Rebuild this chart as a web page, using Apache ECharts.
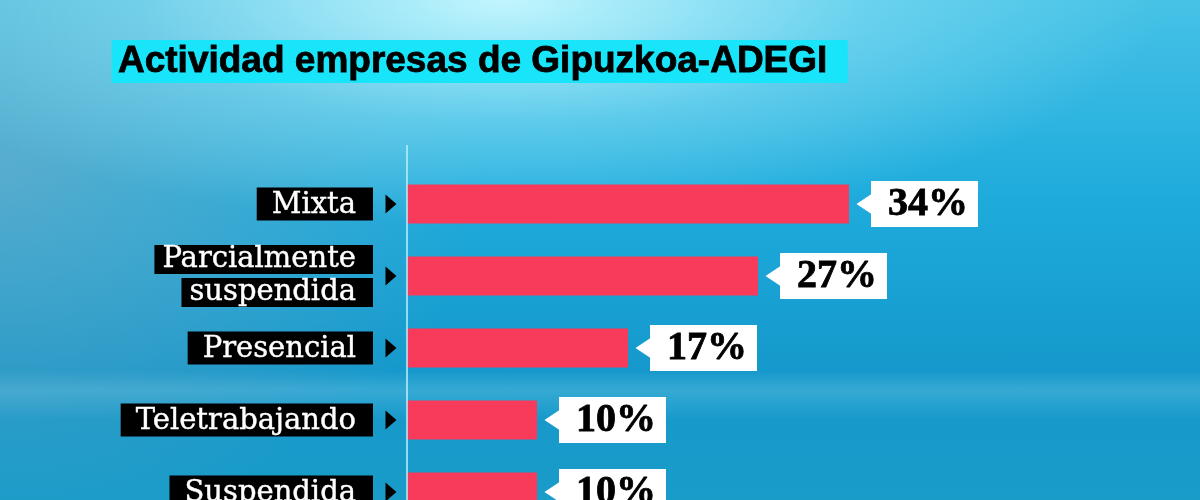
<!DOCTYPE html>
<html lang="es">
<head>
  <meta charset="UTF-8">
  <title>Actividad empresas de Gipuzkoa-ADEGI</title>
  <style>
    html, body { margin: 0; padding: 0; }
    body {
      width: 1200px;
      height: 500px;
      overflow: hidden;
      background:
        radial-gradient(ellipse 55% 45% at 42% 0%, rgba(200, 248, 255, 0.95), rgba(150, 230, 248, 0.45) 55%, rgba(120, 220, 245, 0) 100%),
        radial-gradient(ellipse 40% 70% at 0% 35%, rgba(150, 170, 185, 0.45), rgba(150, 170, 185, 0) 100%),
        linear-gradient(to bottom, rgba(255, 255, 255, 0) 74%, rgba(200, 245, 255, 0.18) 78%, rgba(255, 255, 255, 0) 84%),
        linear-gradient(to bottom, #46c2e6 0%, #1eabdc 40%, #1598cb 75%, #1a9cc9 100%);
    }
    /* el último renglón queda cortado por el borde inferior, como en la imagen */
    #chart { width: 1200px; height: 528px; }
  </style>
</head>
<body>
  <div id="chart"></div>
  <script src="https://cdn.jsdelivr.net/npm/echarts@6/dist/echarts.min.js"></script>
  <script>
    // datos
    const titulo = 'Actividad empresas de Gipuzkoa-ADEGI'
    const categorias = ['Mixta', 'Parcialmente\nsuspendida', 'Presencial', 'Teletrabajando', 'Suspendida']
    const valores = [34, 27, 17, 10, 10]

    const chart = echarts.init(document.getElementById('chart'))

    const option = {
      backgroundColor: 'transparent',
      animation: false,
      title: {
        text: titulo,
        left: 112,
        top: 41,
        backgroundColor: '#19e5fa',
        padding: [3, 20, 2, 6],
        textStyle: {
          fontFamily: 'Liberation Sans',
          fontWeight: 900,
          fontSize: 37,
          lineHeight: 36,
          color: '#000',
          textBorderColor: '#000',
          textBorderWidth: 0.8
        }
      },
      grid: {
        left: 407,
        right: 143,
        top: 168,
        bottom: 0
      },
      xAxis: {
        type: 'value',
        min: 0,
        max: 50,
        show: false
      },
      yAxis: {
        type: 'category',
        inverse: true,
        data: categorias,
        axisLine: { show: false },
        axisTick: { show: false },
        splitLine: { show: false },
        axisLabel: {
          margin: 34,
          formatter: v => v.split('\n').map(l => `{${v.includes('\n') ? 'm' : 'b'}|${l}}`).join('\n'),
          rich: {
            b: {
              color: '#fff',
              backgroundColor: '#000',
              fontFamily: 'DejaVu Serif',
              fontSize: 29,
              lineHeight: 33,
              padding: [3, 17, 1, 15],
              textBorderColor: '#fff',
              textBorderWidth: 0.4
            },
            m: {
              color: '#fff',
              backgroundColor: '#000',
              fontFamily: 'DejaVu Serif',
              fontSize: 29,
              lineHeight: 33,
              padding: [0, 17, 0, 8],
              textBorderColor: '#fff',
              textBorderWidth: 0.4
            }
          }
        }
      },
      graphic: [{
        type: 'line',
        shape: { x1: 407, y1: 145, x2: 407, y2: 528 },
        style: { stroke: '#b8f2ff', lineWidth: 1.5 },
        z: 10
      }],
      series: [
        {
          type: 'bar',
          data: valores,
          barWidth: 39,
          itemStyle: { color: '#f93b5b' },
          label: {
            show: true,
            position: 'right',
            distance: 22,
            formatter: '{v|{c}%}',
            rich: {
              v: {
                color: '#000',
                backgroundColor: '#fff',
                fontFamily: 'Liberation Serif',
                fontWeight: 'bold',
                fontSize: 40,
                lineHeight: 40,
                padding: [4, 10, 2, 17],
                textBorderColor: '#000',
                textBorderWidth: 0.8
              }
            }
          }
        },
        {
          // flechas negras junto a las categorías
          type: 'scatter',
          data: categorias.map((c, i) => [0, i]),
          symbol: 'triangle',
          symbolSize: [19, 11],
          symbolRotate: -90,
          symbolOffset: [-16, 0],
          itemStyle: { color: '#000', opacity: 1 },
          clip: false,
          silent: true
        },
        {
          // punteros blancos de las etiquetas de valor
          type: 'scatter',
          data: valores.map((v, i) => [v, i]),
          symbol: 'triangle',
          symbolSize: [20, 15],
          symbolRotate: 90,
          symbolOffset: [15, 0],
          itemStyle: { color: '#fff', opacity: 1 },
          clip: false,
          silent: true
        }
      ]
    }

    chart.setOption(option)
  </script>
</body>
</html>
